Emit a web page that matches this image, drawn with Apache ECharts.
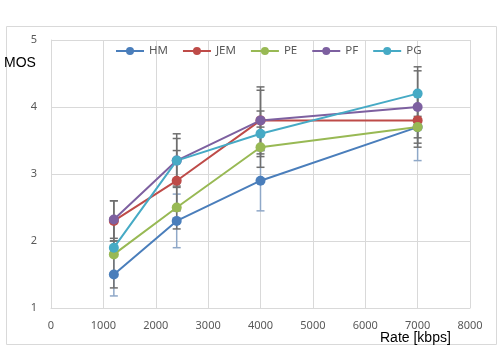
<!DOCTYPE html>
<html><head><meta charset="utf-8">
<script src="https://cdn.jsdelivr.net/npm/echarts@6/dist/echarts.min.js"></script>
<style>html,body{margin:0;padding:0;background:#fff}#c{width:500px;height:352px}</style>
</head><body><div id="c"></div>
<script>
const rates = [1200, 2400, 4000, 7000];
const seriesNames = ['HM', 'JEM', 'PE', 'PF', 'PG'];
const HM  = [1.5, 2.3, 2.9, 3.7];
const JEM = [2.3, 2.9, 3.8, 3.8];
const PE  = [1.8, 2.5, 3.4, 3.7];
const PF  = [2.32, 3.2, 3.8, 4.0];
const PG  = [1.9, 3.2, 3.6, 4.2];
// error (± half-width) per series
const HM_err  = [0.32, 0.4, 0.45, 0.5];
const JEM_err = [0.3, 0.45, 0.45, 0.4];
const PE_err  = [0.5, 0.32, 0.3, 0.16];
const PF_err  = [0.28, 0.33, 0.5, 0.54];
const PG_err  = [0.1, 0.4, 0.34, 0.4];
const xTicks = [0, 1000, 2000, 3000, 4000, 5000, 6000, 7000, 8000];
const yTicks = [1, 2, 3, 4, 5];

const colors = ['#4a7ebb', '#be4b48', '#98b954', '#7d60a0', '#46aac5'];
const errColors = ['#8fa8c8', '#6f6f6f', '#6f6f6f', '#6f6f6f', '#6f6f6f'];
const vals = [HM, JEM, PE, PF, PG];
const errs = [HM_err, JEM_err, PE_err, PF_err, PG_err];

const chart = echarts.init(document.getElementById('c'));
const series = [];
vals.forEach((v, i) => {
  series.push({
    type: 'custom',
    name: seriesNames[i] + '_err',
    z: 1,
    data: rates.map((r, k) => [r, v[k] - errs[i][k], v[k] + errs[i][k]]),
    renderItem: function (params, api) {
      const x = api.value(0);
      const lo = api.coord([x, api.value(1)]);
      const hi = api.coord([x, api.value(2)]);
      const w = 4;
      const st = { stroke: errColors[i], lineWidth: 1.5 };
      return {
        type: 'group',
        children: [
          { type: 'line', shape: { x1: lo[0], y1: lo[1], x2: hi[0], y2: hi[1] }, style: st },
          { type: 'line', shape: { x1: lo[0] - w, y1: lo[1], x2: lo[0] + w, y2: lo[1] }, style: st },
          { type: 'line', shape: { x1: hi[0] - w, y1: hi[1], x2: hi[0] + w, y2: hi[1] }, style: st }
        ]
      };
    },
    silent: true
  });
});
vals.forEach((v, i) => {
  series.push({
    type: 'line',
    name: seriesNames[i],
    z: 3,
    data: rates.map((r, k) => [r, v[k]]),
    symbol: 'circle',
    symbolSize: 10,
    lineStyle: { width: 2, color: colors[i] },
    itemStyle: { color: colors[i] }
  });
});

chart.setOption({
  animation: false,
  color: colors,
  grid: { left: 51, right: 30, top: 40, bottom: 44 },
  legend: {
    data: seriesNames,
    top: 40,
    left: 110,
    itemWidth: 28,
    itemHeight: 10,
    itemGap: 14,
    textStyle: { fontFamily: 'Noto Sans', fontSize: 11.5, color: '#595959' }
  },
  xAxis: {
    type: 'value', min: 0, max: 8000, interval: 1000,
    axisLine: { show: true, lineStyle: { color: '#d9d9d9' } },
    axisTick: { show: false },
    splitLine: { show: true, lineStyle: { color: '#d9d9d9' } },
    axisLabel: { margin: 12, fontFamily: 'Noto Sans', fontSize: 11, color: '#595959',
      formatter: function (v) { return String(v); } }
  },
  yAxis: {
    type: 'value', min: 1, max: 5, interval: 1,
    axisLine: { show: true, lineStyle: { color: '#d9d9d9' } },
    axisTick: { show: false },
    splitLine: { show: true, lineStyle: { color: '#d9d9d9' } },
    axisLabel: { margin: 14, fontFamily: 'Noto Sans', fontSize: 11, color: '#595959' }
  },
  graphic: [
    { type: 'rect', shape: { x: 6.5, y: 26.5, width: 490, height: 318 }, style: { fill: null, stroke: '#d9d9d9', lineWidth: 1 }, z: -1 },
    { type: 'text', left: 4, top: 56, style: { text: 'MOS', font: '14px "Liberation Sans"', fill: '#000' } },
    { type: 'text', left: 380, top: 331, style: { text: 'Rate [kbps]', font: '14px "Liberation Sans"', fill: '#000' } }
  ],
  series: series
});
</script></body></html>
